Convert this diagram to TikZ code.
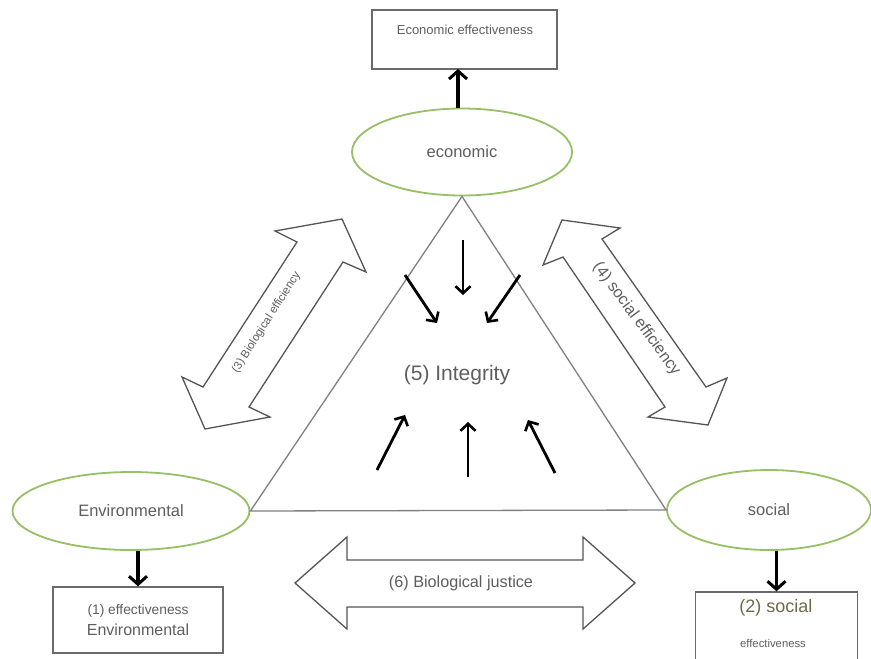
\documentclass[tikz,border=0pt]{standalone}
\usepackage{fontspec}
\setmainfont{Liberation Sans}
\usetikzlibrary{shapes.geometric,arrows.meta}
\definecolor{txt}{HTML}{5E5E5E}
\definecolor{ellg}{HTML}{97C066}
\definecolor{boxg}{HTML}{6A6A6A}
\definecolor{trig}{HTML}{808080}
\definecolor{arrg}{HTML}{555555}
\definecolor{olive}{HTML}{6B6B48}
\newcommand{\fs}[1]{\fontsize{#1}{#1}\selectfont}
\tikzset{
  ell/.style={ellipse, draw=ellg, line width=1.8pt, fill=white, inner sep=0pt, text=txt},
  boxn/.style={rectangle, draw=boxg, line width=1.5pt, inner sep=0pt},
  lbl/.style={text=txt, inner sep=0pt},
  blk/.style={black, line width=2.8pt, -{Straight Barb[length=7pt,width=15pt,line width=2.6pt]}},
  blkbig/.style={black, line width=3.2pt, -{Straight Barb[length=8pt,width=18pt,line width=3pt]}},
  bigarr/.style={draw=arrg, line width=1.3pt, fill=white, line join=miter},
}
\begin{document}
\begin{tikzpicture}[x=1pt,y=-1pt]
\clip (0,0) rectangle (871,659);
\fill[white] (0,0) rectangle (871,659);

% triangle nodes
\node[ell, minimum width=220pt, minimum height=87pt] (econ) at (462,152) {\fs{16.5}economic};
\node[ell, minimum width=237pt, minimum height=78pt] (env) at (131,511) {\fs{16.5}Environmental};
\node[ell, minimum width=204pt, minimum height=80pt] (soc) at (769,510) {\fs{16.5}social};

\draw[trig, line width=1.3pt] (econ.south) -- (env.east) -- (soc.west) -- cycle;

% boxes
\node[boxn, minimum width=185pt, minimum height=59pt] (ebox) at (464.5,39.5) {};
\node[lbl] (etxt) at (465,30) {\fs{13}Economic effectiveness};
\node[boxn, minimum width=170pt, minimum height=66pt, align=center, text=txt] (b1) at (138,620)
  {\fs{13.8}(1) effectiveness\\[6pt]\fs{16}Environmental};
\node[boxn, minimum width=162pt, minimum height=74pt] (b2) at (776.5,629) {};
\node[inner sep=0pt, text=olive] (b2a) at (776,608) {\fs{18}(2) social};
\node[lbl] (b2b) at (773,643) {\fs{11.3}effectiveness};

% black connectors
\draw[blkbig] (econ.north -| 458,0) -- (458,69);
\draw[blkbig] (b1.north |- env.south) -- (b1.north);
\draw[blkbig] (b2.north |- soc.south) -- (b2.north);

% inner arrows
\coordinate (a1s) at (463,240); \coordinate (a1e) at (463,295);
\coordinate (a2s) at (405,275); \coordinate (a2e) at (437,323);
\coordinate (a3s) at (520,275); \coordinate (a3e) at (487,323);
\coordinate (a4s) at (377,470); \coordinate (a4e) at (405,415);
\coordinate (a5s) at (468,477); \coordinate (a5e) at (468,422);
\coordinate (a6s) at (555,473); \coordinate (a6e) at (528,420);
\foreach \s/\e in {a1s/a1e,a2s/a2e,a3s/a3e,a4s/a4e,a5s/a5e,a6s/a6e}
  \draw[blk] (\s) -- (\e);

\node[lbl] (integ) at (457,375) {\fs{21}(5) Integrity};

% (3) biological efficiency double arrow
\draw[bigarr] (342,219) -- (366,272) -- (343,262) -- (249,407) -- (270,417) -- (205,429)
  -- (182,377) -- (203,387) -- (297,242) -- (275,231) -- cycle;
\node[lbl, rotate=57.5] (t3) at (266.5,322.5) {\fs{11.5}(3) Biological efficiency};

% (4) social efficiency double arrow
\draw[bigarr] (562,220) -- (620,228) -- (602,239) -- (706,387) -- (727,378) -- (708,425)
  -- (648,417) -- (665,407) -- (563,257) -- (543,265) -- cycle;
\node[lbl, rotate=-53.5] (t4) at (636.5,319) {\fs{16}(4) social efficiency};

% (6) biological justice double arrow
\draw[bigarr] (295,583) -- (347,537) -- (347,560) -- (583,560) -- (583,537) -- (635,583)
  -- (583,629) -- (583,607) -- (347,607) -- (347,629) -- cycle;
\node[lbl] (t6) at (461,583) {\fs{16.2}(6) Biological justice};
\end{tikzpicture}
\end{document}
